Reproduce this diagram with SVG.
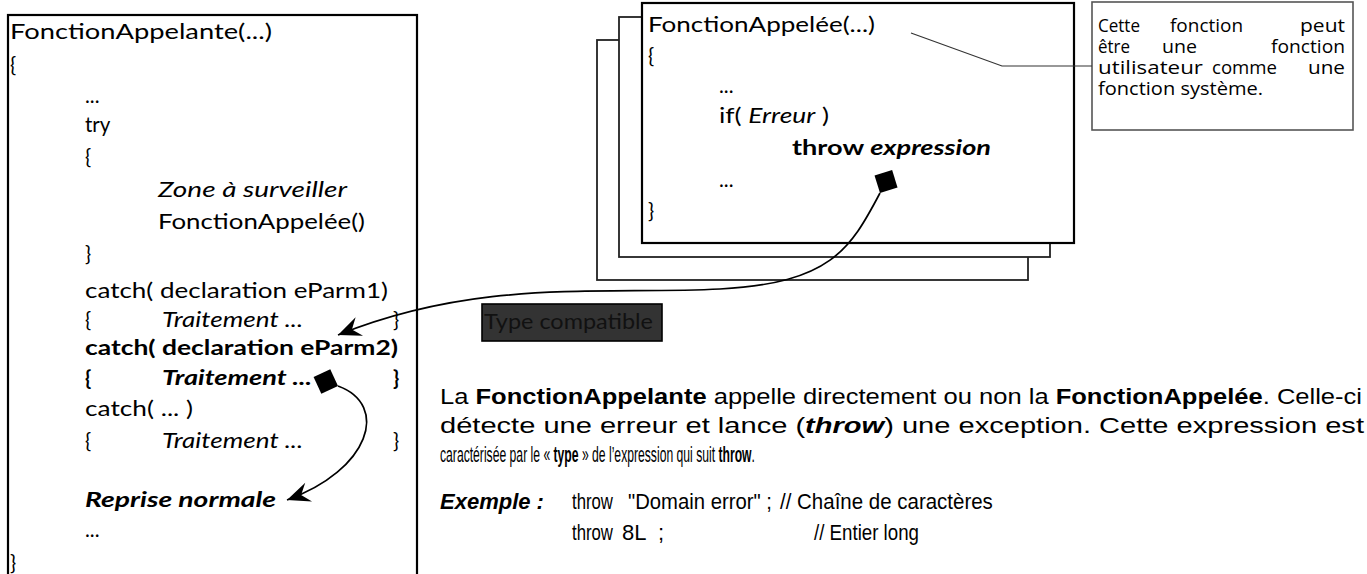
<svg xmlns="http://www.w3.org/2000/svg" width="1367" height="574" viewBox="0 0 1367 574">
<style>
.t{font-family:Lato,"Open Sans","Noto Sans",sans-serif;font-size:20.5px;fill:#000}
.b{font-weight:bold}
.i{font-style:italic}
.p{font-family:"Liberation Sans Narrow","Liberation Sans",sans-serif;font-size:22px;fill:#000}
.c{font-family:"Open Sans",Lato,"Noto Sans",sans-serif;font-size:17.4px;fill:#000}
.box{fill:#fff;stroke:#000;stroke-width:2.2}
.page{fill:#fff;stroke:#222;stroke-width:1.8}
.conn{fill:none;stroke:#000;stroke-width:1.7}
</style>
<defs>
<marker id="dia" markerUnits="userSpaceOnUse" orient="auto-start-reverse" refX="0" refY="0" markerWidth="30" markerHeight="30" viewBox="-2 -15 30 30" overflow="visible">
<path d="M0,0 L13,-13 L26,0 L13,13 Z" fill="#000"/>
</marker>
<marker id="arr" markerUnits="userSpaceOnUse" orient="auto" refX="0" refY="0" markerWidth="30" markerHeight="30" viewBox="-26 -12 30 24" overflow="visible">
<path d="M0,0 L-23,-10 L-15,0 L-23,10 Z" fill="#000"/>
</marker>
</defs>

<g id="appelante">
<rect class="box" x="8" y="15" width="409" height="585"/>
<text class="t" x="10" y="39" textLength="262" lengthAdjust="spacingAndGlyphs">FonctionAppelante(...)</text>
<text class="t" x="10" y="72">{</text>
<text class="t" x="85" y="103">...</text>
<text class="t" x="85" y="132">try</text>
<text class="t" x="85" y="164">{</text>
<text class="t i" x="158" y="197" textLength="189" lengthAdjust="spacingAndGlyphs">Zone à surveiller</text>
<text class="t" x="158" y="229" textLength="207" lengthAdjust="spacingAndGlyphs">FonctionAppelée()</text>
<text class="t" x="85" y="261">}</text>
<text class="t" x="85" y="298" textLength="303" lengthAdjust="spacingAndGlyphs">catch( declaration eParm1)</text>
<text class="t" x="85" y="327">{</text>
<text class="t i" x="162" y="327" textLength="141" lengthAdjust="spacingAndGlyphs">Traitement ...</text>
<text class="t" x="393" y="327">}</text>
<text class="t b" x="85" y="355" textLength="313" lengthAdjust="spacingAndGlyphs">catch( declaration eParm2)</text>
<text class="t b" x="85" y="385">{</text>
<text class="t b i" x="162" y="385" textLength="150" lengthAdjust="spacingAndGlyphs">Traitement ...</text>
<text class="t b" x="393" y="385">}</text>
<text class="t" x="85" y="416" textLength="108" lengthAdjust="spacingAndGlyphs">catch( ... )</text>
<text class="t" x="85" y="448">{</text>
<text class="t i" x="162" y="448" textLength="141" lengthAdjust="spacingAndGlyphs">Traitement ...</text>
<text class="t" x="393" y="448">}</text>
<text class="t b i" x="85" y="507" textLength="191" lengthAdjust="spacingAndGlyphs">Reprise normale</text>
<text class="t" x="85" y="537">...</text>
<text class="t" x="10" y="570">}</text>
</g>

<g id="appelee">
<rect class="page" x="597" y="40" width="431" height="240"/>
<rect class="page" x="619" y="17" width="431" height="240"/>
<rect class="box" x="642" y="3" width="432" height="240"/>
<text class="t" x="648" y="32" textLength="227" lengthAdjust="spacingAndGlyphs">FonctionAppelée(...)</text>
<text class="t" x="648" y="63">{</text>
<text class="t" x="719" y="93">...</text>
<text class="t" x="719" y="123" textLength="110" lengthAdjust="spacingAndGlyphs">if( <tspan class="i">Erreur</tspan> )</text>
<text class="t b" x="792" y="155" textLength="199" lengthAdjust="spacingAndGlyphs">throw <tspan class="i">expression</tspan></text>
<text class="t" x="719" y="187">...</text>
<text class="t" x="648" y="218">}</text>
</g>

<g id="note">
<rect x="1092" y="2" width="261" height="128" fill="#fff" stroke="#555" stroke-width="1.6"/>
<text class="c" x="1098" y="32" textLength="42" lengthAdjust="spacingAndGlyphs">Cette</text>
<text class="c" x="1170" y="32" textLength="73" lengthAdjust="spacingAndGlyphs">fonction</text>
<text class="c" x="1300" y="32" textLength="45" lengthAdjust="spacingAndGlyphs">peut</text>
<text class="c" x="1098" y="53" textLength="32" lengthAdjust="spacingAndGlyphs">être</text>
<text class="c" x="1162" y="53" textLength="35" lengthAdjust="spacingAndGlyphs">une</text>
<text class="c" x="1271" y="53" textLength="74" lengthAdjust="spacingAndGlyphs">fonction</text>
<text class="c" x="1098" y="74" textLength="105" lengthAdjust="spacingAndGlyphs">utilisateur</text>
<text class="c" x="1212" y="74" textLength="65" lengthAdjust="spacingAndGlyphs">comme</text>
<text class="c" x="1308" y="74" textLength="37" lengthAdjust="spacingAndGlyphs">une</text>
<text class="c" x="1098" y="95" textLength="165" lengthAdjust="spacingAndGlyphs">fonction système.</text>
</g>

<g id="type-compatible">
<rect x="482" y="304" width="180" height="37" fill="#333" stroke="#000" stroke-width="1.6"/>
<text class="t" x="484" y="329" style="fill:#111;font-size:21px" textLength="169" lengthAdjust="spacingAndGlyphs">Type compatible</text>
</g>

<g id="explication">
<text class="p" x="440" y="404" textLength="922" lengthAdjust="spacingAndGlyphs">La <tspan class="b">FonctionAppelante</tspan> appelle directement ou non la <tspan class="b">FonctionAppelée</tspan>. Celle-ci</text>
<text class="p" x="440" y="433" textLength="924" lengthAdjust="spacingAndGlyphs">détecte une erreur et lance (<tspan class="b i">throw</tspan>) une exception. Cette expression   est</text>
<text class="p" transform="translate(440 462) scale(0.553 1)">caractérisée par le « <tspan class="b">type</tspan> » de l’expression qui suit <tspan class="b">throw</tspan>.</text>
<text class="p b i" x="440" y="509">Exemple :</text>
<text class="p" transform="translate(572 509) scale(0.762 1)">throw</text>
<text class="p" transform="translate(628 509) scale(0.922 1)">"Domain error" ;</text>
<text class="p" transform="translate(780 509) scale(0.931 1)">// Chaîne de caractères</text>
<text class="p" transform="translate(572 540) scale(0.762 1)">throw</text>
<text class="p" x="622" y="540">8L</text>
<text class="p" x="658" y="540">;</text>
<text class="p" transform="translate(814 540) scale(0.85 1)">// Entier long</text>
</g>

<g id="connectors">
<polyline points="911,33 1002,66 1092,66" fill="none" stroke="#333" stroke-width="1.2"/>
<path class="conn" d="M880,193 C850,250 830,283 720,289 C600,295 480,278 338,335" marker-start="url(#dia)" marker-end="url(#arr)"/>
<path class="conn" d="M338,386 C390,405 370,470 287,500" marker-start="url(#dia)" marker-end="url(#arr)"/>
</g>
</svg>
